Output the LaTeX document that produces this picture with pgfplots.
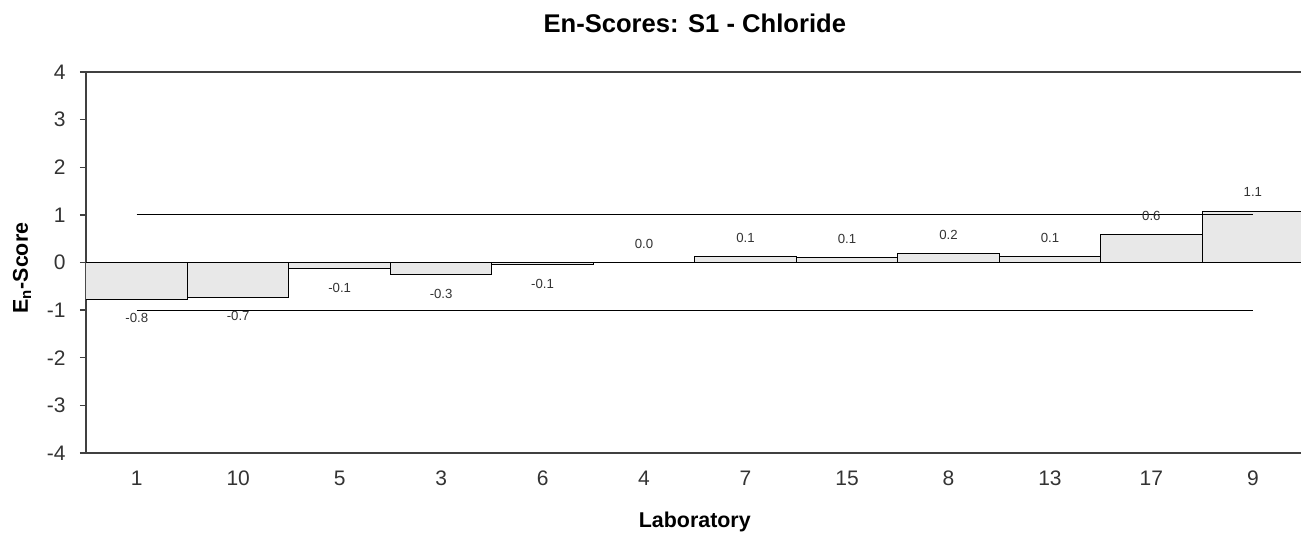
\documentclass[border=0pt]{standalone}
\usepackage{fontspec}
\setmainfont{Liberation Sans}
\usepackage{pgfplots}
\pgfplotsset{compat=1.18}
\definecolor{barfill}{HTML}{E8E8E8}
\definecolor{txt}{HTML}{333333}
\definecolor{spine}{HTML}{404040}

\begin{document}
\begin{tikzpicture}
% the frame runs on past the right edge of the page
\useasboundingbox (-43pt,-40pt) rectangle (607.5pt,226.5pt);
\begin{axis}[
  at={(0,0)}, anchor=south west,
  width=608.8pt, height=190.5pt,
  scale only axis,
  xmin=-0.5, xmax=11.5,
  ymin=-4, ymax=4,
  xtick={0,...,11},
  xticklabels={1,10,5,3,6,4,7,15,8,13,17,9},
  ytick={-4,-3,...,4},
  ytick pos=left,
  tick align=outside,
  major tick length=3pt,
  xtick style={draw=none},
  ytick style={spine, line width=0.7pt},
  axis line style={spine, line width=0.8pt},
  /pgf/number format/assume math mode=true,
  tick label style={font=\fontsize{10.5}{12}\selectfont, text=txt},
  xticklabel style={anchor=base, yshift=-13.5pt, inner sep=0pt},
  yticklabel style={anchor=east, xshift=-7pt, inner sep=0pt},
  title={En-Scores: S1 - Chloride},
  title style={font=\bfseries\fontsize{12.8}{14}\selectfont, at={(axis description cs:0.5,1)}, anchor=base, yshift=14pt},
  xlabel={Laboratory},
  xlabel style={font=\bfseries\fontsize{10.7}{12}\selectfont, at={(axis description cs:0.5,0)}, anchor=base, yshift=-37.5pt},
  ylabel={E\textsubscript{n}-Score},
  ylabel style={font=\bfseries\fontsize{10.7}{12}\selectfont, at={(axis description cs:-0.0526,0.485)}, anchor=center},
]
% En-scores per laboratory, bars touching
\addplot[ybar, bar width=1, fill=barfill, draw=black, line width=0.5pt,
  nodes near coords,
  nodes near coords style={font=\fontsize{6.6}{7}\selectfont, text=txt, inner ysep=6.8pt,
    /pgf/number format/.cd, fixed, fixed zerofill, precision=1},
] coordinates {
  (0,-0.78) (1,-0.73) (2,-0.13) (3,-0.26) (4,-0.05) (5,0.0)
  (6,0.13) (7,0.10) (8,0.19) (9,0.13) (10,0.59) (11,1.08)
};
% acceptance limits |En| = 1
\addplot[black, line width=0.6pt] coordinates {(0,1) (11,1)};
\addplot[black, line width=0.6pt] coordinates {(0,-1) (11,-1)};
\end{axis}
\end{tikzpicture}
\end{document}
